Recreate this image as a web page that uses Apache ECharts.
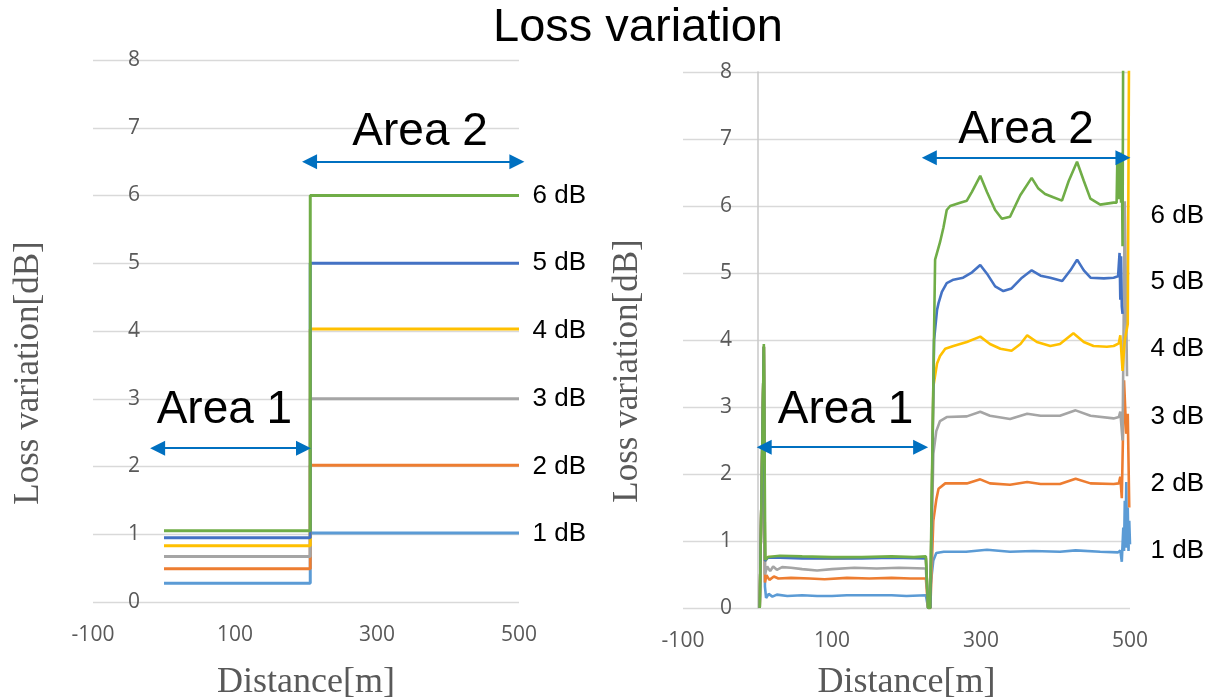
<!DOCTYPE html>
<html><head><meta charset="utf-8">
<script src="https://cdn.jsdelivr.net/npm/echarts@6/dist/echarts.min.js"></script>
<style>html,body{margin:0;padding:0;background:#fff}#c{width:1211px;height:698px}</style>
</head><body><div id="c"></div>
<script>
// ---------- data ----------
const seriesNames = ['1 dB', '2 dB', '3 dB', '4 dB', '5 dB', '6 dB'];
const seriesColors = ['#5B9BD5', '#ED7D31', '#A5A5A5', '#FFC000', '#4472C4', '#70AD47'];

// left (design) chart: level in area 1 and area 2, step position
const leftStartX = 0;
const leftStepX = 206;
const leftEndX = 500;
const leftArea1 = [0.275, 0.49, 0.67, 0.83, 0.95, 1.05];
const leftArea2 = [1.02, 2.02, 3.0, 4.03, 5.0, 6.0];
const leftLabelY = [1, 2, 3, 4, 5, 6];

// right (measured) chart: [distance, loss]
const right1 = [[3,0],[8.5,3.9],[10,0.32],[11.5,0.15],[15,0.21],[20,0.17],[26,0.2],[40,0.18],[60,0.19],[80,0.18],[100,0.18],[120,0.19],[150,0.19],[180,0.19],[200,0.18],[226,0.19],[229,0],[231,0],[236,0.71],[240,0.82],[250,0.84],[280,0.84],[308,0.87],[339,0.84],[370,0.85],[406,0.84],[427,0.86],[460,0.84],[484,0.83],[487,0.86],[489,0.69],[491,1.2],[492,0.85],[493,1.6],[494,0.9],[495,1.88],[496,0.9],[497,1.5],[498,0.85],[499,1.3],[500,0.95]];
const right2 = [[3,0],[8.5,3.9],[10,0.38],[12,0.49],[16,0.42],[22,0.47],[28,0.44],[45,0.45],[70,0.44],[90,0.43],[120,0.45],[150,0.44],[180,0.45],[205,0.44],[226,0.44],[229,0],[232,0],[236,1.3],[240,1.62],[243,1.78],[252,1.86],[263,1.86],[281,1.86],[299,1.92],[312,1.86],[339,1.84],[362,1.88],[380,1.85],[406,1.85],[427,1.93],[447,1.86],[478,1.85],[485,1.86],[487,1.96],[489,1.64],[492,3.4],[495,2.6],[497,2.9],[499,1.5]];
const right3 = [[3,0],[8.5,3.9],[10,0.5],[13,0.62],[17,0.55],[21,0.62],[26,0.57],[33,0.61],[45,0.6],[60,0.58],[80,0.56],[100,0.58],[130,0.6],[160,0.59],[190,0.6],[226,0.59],[229,0],[232,0],[236,2.3],[240,2.64],[245,2.79],[254,2.85],[281,2.86],[299,2.93],[312,2.87],[339,2.82],[362,2.9],[380,2.87],[406,2.87],[427,2.95],[447,2.87],[478,2.83],[485,2.85],[487,2.93],[490,2.5],[493,6.07],[496,3.46]];
const right4 = [[3,0],[8.5,3.9],[10,0.7],[14,0.76],[30,0.76],[60,0.75],[100,0.74],[140,0.75],[180,0.75],[226,0.75],[229,0],[232,0],[236,3.3],[241,3.65],[245,3.76],[252,3.87],[263,3.91],[281,3.97],[299,4.05],[312,3.94],[326,3.87],[341,3.84],[353,3.94],[362,4.07],[375,3.97],[393,3.91],[406,3.94],[424,4.1],[438,3.97],[451,3.91],[469,3.9],[478,3.91],[485,3.95],[487,4.07],[490,3.54],[493,4.0],[497,4.24],[499,9]];
const right5 = [[3,0],[8.5,3.9],[10,0.7],[14,0.75],[30,0.75],[60,0.74],[100,0.74],[140,0.74],[180,0.75],[226,0.74],[229,0],[232,0],[237,4.0],[241,4.45],[243,4.55],[247.5,4.72],[254,4.85],[263,4.9],[276,4.93],[288,5.01],[299,5.12],[308,4.99],[319,4.8],[330,4.73],[341,4.77],[355,4.93],[368,5.04],[380,4.96],[393,4.93],[409,4.88],[420,5.04],[429,5.2],[438,5.04],[447,4.93],[465,4.92],[478,4.93],[484,4.95],[486,5.3],[487,4.6],[488,5.25],[489,4.5],[490,4.39]];
const right6 = [[3,0],[8.5,3.94],[10.5,0.72],[14,0.76],[30,0.78],[60,0.77],[100,0.76],[140,0.76],[180,0.77],[210,0.76],[226,0.77],[229,0],[231.7,0],[238.4,5.2],[245,5.46],[249.6,5.68],[254,5.94],[258.6,6.0],[272,6.05],[281,6.08],[287.8,6.21],[299,6.45],[308,6.21],[319,5.94],[328,5.81],[339,5.84],[352.7,6.16],[368,6.42],[377,6.26],[386,6.18],[397,6.13],[408.7,6.08],[417.6,6.37],[428.9,6.66],[437.8,6.38],[446.8,6.11],[460,6.02],[478,6.05],[482,6.05],[483,6.7],[484,6.1],[485,6.8],[486,6.1],[487,6.75],[488,6.05],[489,6.8],[490,5.4],[491,9]];
const rightSeries = [right1, right2, right3, right4, right5, right6];
const rightLabelY = [0.86, 1.86, 2.86, 3.87, 4.87, 5.85];
const labelX = 500;

// annotations: arrows [x1, y, x2] and area texts [x, y, text]
const leftArrows = [[-9, 2.27, 196.5], [205, 6.5, 497]];
const leftAreaText = [[85.8, 2.82, 'Area 1'], [361.4, 6.92, 'Area 2']];
const rightArrows = [[9, 2.4, 219], [230.6, 6.72, 490.5]];
const rightAreaText = [[118.8, 2.95, 'Area 1'], [361, 7.12, 'Area 2']];

// axis ranges
const xMin = -100, xMax = 500, xStep = 200;
const yMin = 0, yMax = 8, yStep = 1;

// ---------- chart ----------
const chart = echarts.init(document.getElementById('c'), null, {renderer: 'canvas'});
const tickFont = {color: '#595959', fontSize: 21, fontFamily: 'Open Sans'};
const nameFont = {color: '#595959', fontSize: 36, fontFamily: 'Liberation Serif'};
const splitStyle = {show: true, lineStyle: {color: '#d9d9d9', width: 1.3}};

function xAxisCfg(idx, gap) {
  return {type: 'value', gridIndex: idx, min: xMin, max: xMax, interval: xStep,
    name: 'Distance[m]', nameLocation: 'middle', nameGap: gap, nameTextStyle: nameFont,
    axisLine: {show: false}, axisTick: {show: false}, splitLine: {show: false},
    axisLabel: Object.assign({margin: 23}, tickFont)};
}
function yAxisCfg(idx, showLine, margin) {
  return {type: 'value', gridIndex: idx, min: yMin, max: yMax, interval: yStep,
    axisLine: {show: showLine, onZero: true, lineStyle: {color: '#c8c8c8', width: 1.5}},
    axisTick: {show: false}, splitLine: splitStyle,
    axisLabel: Object.assign({margin: margin}, tickFont)};
}

const series = [];
seriesNames.forEach((n, i) => {
  series.push({name: n, type: 'line', xAxisIndex: 0, yAxisIndex: 0, symbol: 'none', silent: true,
    lineStyle: {color: seriesColors[i], width: 3}, itemStyle: {color: seriesColors[i]},
    data: [[leftStartX, leftArea1[i]], [leftStepX, leftArea1[i]], [leftStepX, leftArea2[i]], [leftEndX, leftArea2[i]]]});
});
seriesNames.forEach((n, i) => {
  series.push({name: n + ' meas', type: 'line', xAxisIndex: 1, yAxisIndex: 1, symbol: 'none', silent: true, clip: true,
    lineStyle: {color: seriesColors[i], width: 2.6}, itemStyle: {color: seriesColors[i]},
    data: rightSeries[i]});
});

function labelSeries(idx, ys, dist) {
  return {type: 'scatter', xAxisIndex: idx, yAxisIndex: idx, symbolSize: 1, silent: true,
    itemStyle: {color: 'rgba(0,0,0,0)', opacity: 1},
    label: {show: true, position: 'right', distance: dist, formatter: p => p.name,
      color: '#000', fontSize: 26, fontFamily: 'Liberation Sans'},
    data: ys.map((y, i) => ({name: seriesNames[i], value: [labelX, y]}))};
}
function areaSeries(idx, texts, arrows) {
  return {type: 'scatter', xAxisIndex: idx, yAxisIndex: idx, symbolSize: 1, silent: true,
    itemStyle: {color: 'rgba(0,0,0,0)', opacity: 1},
    label: {show: true, position: [0, 0], align: 'center', verticalAlign: 'middle', formatter: p => p.name,
      color: '#000', fontSize: 46, fontFamily: 'Liberation Sans', textBorderWidth: 0},
    data: texts.map(t => ({name: t[2], value: [t[0], t[1]]})),
    markLine: {silent: true, animation: false, symbol: ['triangle', 'triangle'], symbolSize: 15,
      lineStyle: {color: '#0070C0', width: 2.2, type: 'solid'}, label: {show: false},
      emphasis: {disabled: true},
      data: arrows.map(a => [{coord: [a[0], a[1]]}, {coord: [a[2], a[1]]}])}};
}
series.push(labelSeries(0, leftLabelY, 13));
series.push(labelSeries(1, rightLabelY, 20));
series.push(areaSeries(0, leftAreaText, leftArrows));
series.push(areaSeries(1, rightAreaText, rightArrows));

chart.setOption({
  animation: false,
  backgroundColor: '#fff',
  title: {text: 'Loss variation', left: 633, top: 0, textAlign: 'center',
    textStyle: {fontSize: 47, fontWeight: 'normal', color: '#000', fontFamily: 'Liberation Sans'}},
  grid: [
    {left: 93, top: 60, width: 426, height: 542, containLabel: false, outerBoundsMode: 'none'},
    {left: 683, top: 72, width: 447, height: 536, containLabel: false, outerBoundsMode: 'none'}
  ],
  xAxis: [xAxisCfg(0, 63), xAxisCfg(1, 57)],
  yAxis: [yAxisCfg(0, false, -47), yAxisCfg(1, true, -49)],
  graphic: [
    {type: 'text', x: 29, y: 373, rotation: Math.PI / 2, silent: true,
      style: {text: 'Loss variation[dB]', fill: '#595959', fontSize: 35, fontFamily: 'Liberation Serif',
        align: 'center', verticalAlign: 'middle'}},
    {type: 'text', x: 628, y: 371, rotation: Math.PI / 2, silent: true,
      style: {text: 'Loss variation[dB]', fill: '#595959', fontSize: 35, fontFamily: 'Liberation Serif',
        align: 'center', verticalAlign: 'middle'}}
  ],
  series: series
});
</script></body></html>
